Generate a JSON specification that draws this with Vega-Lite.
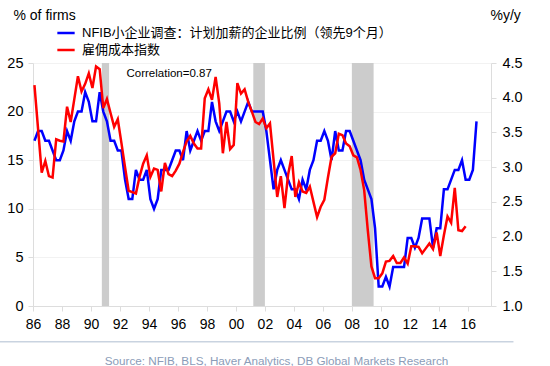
{
  "$schema": "https://vega.github.io/schema/vega-lite/v6.json",
  "width": 458,
  "height": 243,
  "autosize": "none",
  "padding": {"left": 33, "top": 63, "right": 59, "bottom": 60},
  "background": "white",
  "config": {
    "view": {"stroke": null},
    "font": "Liberation Sans",
    "axis": {"labelFont": "Liberation Sans", "titleFont": "Liberation Sans", "labelColor": "#000000", "titleColor": "#000000", "titleFontWeight": "normal", "domainColor": "#dddddd", "tickColor": "#dddddd", "labelOverlap": false},
    "axisX": {"labelOverlap": false, "labelFlush": false, "labelBound": false, "grid": false, "tickSize": 5, "labelPadding": 6, "labelFontSize": 14, "tickCount": 20},
    "legend": {"labelFont": "Liberation Sans, Noto Sans CJK SC"}
  },
  "datasets": {
    "recessions": [
      {"start": 1990.75, "end": 1991.25},
      {"start": 2001.2, "end": 2002.0},
      {"start": 2008.0, "end": 2009.5}
    ],
    "nfib": [
      {"year": 1986.10, "pct": 17}, {"year": 1986.35, "pct": 18}, {"year": 1986.60, "pct": 18}, {"year": 1986.85, "pct": 17},
      {"year": 1987.10, "pct": 17}, {"year": 1987.35, "pct": 16}, {"year": 1987.60, "pct": 15}, {"year": 1987.85, "pct": 15},
      {"year": 1988.10, "pct": 16}, {"year": 1988.35, "pct": 18}, {"year": 1988.60, "pct": 17}, {"year": 1988.85, "pct": 19},
      {"year": 1989.10, "pct": 20}, {"year": 1989.35, "pct": 20}, {"year": 1989.60, "pct": 22}, {"year": 1989.85, "pct": 21},
      {"year": 1990.10, "pct": 19}, {"year": 1990.35, "pct": 19}, {"year": 1990.60, "pct": 22}, {"year": 1990.85, "pct": 20},
      {"year": 1991.10, "pct": 19}, {"year": 1991.35, "pct": 17}, {"year": 1991.60, "pct": 17}, {"year": 1991.85, "pct": 16},
      {"year": 1992.10, "pct": 16}, {"year": 1992.35, "pct": 13}, {"year": 1992.60, "pct": 11}, {"year": 1992.85, "pct": 11},
      {"year": 1993.10, "pct": 14}, {"year": 1993.35, "pct": 13}, {"year": 1993.60, "pct": 13}, {"year": 1993.85, "pct": 14},
      {"year": 1994.10, "pct": 11}, {"year": 1994.35, "pct": 10}, {"year": 1994.60, "pct": 11}, {"year": 1994.85, "pct": 14},
      {"year": 1995.10, "pct": 14}, {"year": 1995.35, "pct": 14}, {"year": 1995.60, "pct": 15}, {"year": 1995.85, "pct": 16},
      {"year": 1996.10, "pct": 16}, {"year": 1996.35, "pct": 15}, {"year": 1996.60, "pct": 18}, {"year": 1996.85, "pct": 16},
      {"year": 1997.10, "pct": 17}, {"year": 1997.35, "pct": 18}, {"year": 1997.60, "pct": 17}, {"year": 1997.85, "pct": 18},
      {"year": 1998.10, "pct": 18}, {"year": 1998.35, "pct": 21}, {"year": 1998.60, "pct": 19}, {"year": 1998.85, "pct": 18},
      {"year": 1999.10, "pct": 19}, {"year": 1999.35, "pct": 20}, {"year": 1999.60, "pct": 20}, {"year": 1999.85, "pct": 19},
      {"year": 2000.10, "pct": 20}, {"year": 2000.35, "pct": 19}, {"year": 2000.60, "pct": 20}, {"year": 2000.85, "pct": 21},
      {"year": 2001.10, "pct": 20}, {"year": 2001.35, "pct": 20}, {"year": 2001.60, "pct": 20}, {"year": 2001.85, "pct": 20},
      {"year": 2002.10, "pct": 18}, {"year": 2002.35, "pct": 15}, {"year": 2002.60, "pct": 12}, {"year": 2002.85, "pct": 14},
      {"year": 2003.10, "pct": 15}, {"year": 2003.35, "pct": 14}, {"year": 2003.60, "pct": 13}, {"year": 2003.85, "pct": 12},
      {"year": 2004.10, "pct": 12}, {"year": 2004.35, "pct": 11}, {"year": 2004.60, "pct": 13}, {"year": 2004.85, "pct": 12},
      {"year": 2005.10, "pct": 14}, {"year": 2005.35, "pct": 15}, {"year": 2005.60, "pct": 17}, {"year": 2005.85, "pct": 17},
      {"year": 2006.10, "pct": 18}, {"year": 2006.35, "pct": 17}, {"year": 2006.60, "pct": 15}, {"year": 2006.85, "pct": 18},
      {"year": 2007.10, "pct": 16}, {"year": 2007.35, "pct": 16}, {"year": 2007.60, "pct": 18}, {"year": 2007.85, "pct": 18},
      {"year": 2008.10, "pct": 17}, {"year": 2008.35, "pct": 16}, {"year": 2008.60, "pct": 15}, {"year": 2008.85, "pct": 13},
      {"year": 2009.10, "pct": 12}, {"year": 2009.35, "pct": 11}, {"year": 2009.60, "pct": 8}, {"year": 2009.85, "pct": 2},
      {"year": 2010.10, "pct": 2}, {"year": 2010.35, "pct": 3}, {"year": 2010.60, "pct": 2}, {"year": 2010.85, "pct": 4},
      {"year": 2011.10, "pct": 4}, {"year": 2011.35, "pct": 4}, {"year": 2011.60, "pct": 4}, {"year": 2011.85, "pct": 7},
      {"year": 2012.10, "pct": 7}, {"year": 2012.35, "pct": 6}, {"year": 2012.60, "pct": 7}, {"year": 2012.85, "pct": 9},
      {"year": 2013.10, "pct": 9}, {"year": 2013.35, "pct": 9}, {"year": 2013.60, "pct": 6}, {"year": 2013.85, "pct": 8},
      {"year": 2014.10, "pct": 8}, {"year": 2014.35, "pct": 12}, {"year": 2014.60, "pct": 12}, {"year": 2014.85, "pct": 13},
      {"year": 2015.10, "pct": 14}, {"year": 2015.35, "pct": 14}, {"year": 2015.60, "pct": 15}, {"year": 2015.85, "pct": 13},
      {"year": 2016.10, "pct": 13}, {"year": 2016.35, "pct": 14}, {"year": 2016.60, "pct": 19}
    ],
    "eci": [
      {"year": 1986.10, "yoy": 4.18}, {"year": 1986.35, "yoy": 3.55}, {"year": 1986.60, "yoy": 2.92}, {"year": 1986.85, "yoy": 3.09},
      {"year": 1987.10, "yoy": 2.87}, {"year": 1987.35, "yoy": 2.85}, {"year": 1987.60, "yoy": 3.40}, {"year": 1987.85, "yoy": 3.38},
      {"year": 1988.10, "yoy": 3.37}, {"year": 1988.35, "yoy": 3.87}, {"year": 1988.60, "yoy": 3.65}, {"year": 1988.85, "yoy": 3.98},
      {"year": 1989.10, "yoy": 4.31}, {"year": 1989.35, "yoy": 4.09}, {"year": 1989.60, "yoy": 4.20}, {"year": 1989.85, "yoy": 4.35},
      {"year": 1990.10, "yoy": 4.14}, {"year": 1990.35, "yoy": 4.45}, {"year": 1990.60, "yoy": 4.41}, {"year": 1990.85, "yoy": 3.85},
      {"year": 1991.10, "yoy": 3.98}, {"year": 1991.35, "yoy": 3.78}, {"year": 1991.60, "yoy": 3.58}, {"year": 1991.85, "yoy": 3.69},
      {"year": 1992.10, "yoy": 3.35}, {"year": 1992.35, "yoy": 3.00}, {"year": 1992.60, "yoy": 2.66}, {"year": 1992.85, "yoy": 2.64},
      {"year": 1993.10, "yoy": 2.62}, {"year": 1993.35, "yoy": 2.86}, {"year": 1993.60, "yoy": 3.05}, {"year": 1993.85, "yoy": 3.17},
      {"year": 1994.10, "yoy": 2.86}, {"year": 1994.35, "yoy": 2.98}, {"year": 1994.60, "yoy": 2.96}, {"year": 1994.85, "yoy": 2.65},
      {"year": 1995.10, "yoy": 3.06}, {"year": 1995.35, "yoy": 2.90}, {"year": 1995.60, "yoy": 2.87}, {"year": 1995.85, "yoy": 2.95},
      {"year": 1996.10, "yoy": 3.05}, {"year": 1996.35, "yoy": 3.22}, {"year": 1996.60, "yoy": 3.37}, {"year": 1996.85, "yoy": 3.45},
      {"year": 1997.10, "yoy": 3.34}, {"year": 1997.35, "yoy": 3.27}, {"year": 1997.60, "yoy": 3.27}, {"year": 1997.85, "yoy": 3.99},
      {"year": 1998.10, "yoy": 4.12}, {"year": 1998.35, "yoy": 3.97}, {"year": 1998.60, "yoy": 4.30}, {"year": 1998.85, "yoy": 3.92},
      {"year": 1999.10, "yoy": 3.20}, {"year": 1999.35, "yoy": 3.65}, {"year": 1999.60, "yoy": 3.26}, {"year": 1999.85, "yoy": 3.32},
      {"year": 2000.10, "yoy": 4.21}, {"year": 2000.35, "yoy": 4.06}, {"year": 2000.60, "yoy": 4.12}, {"year": 2000.85, "yoy": 3.94},
      {"year": 2001.10, "yoy": 3.80}, {"year": 2001.35, "yoy": 3.65}, {"year": 2001.60, "yoy": 3.62}, {"year": 2001.85, "yoy": 3.70},
      {"year": 2002.10, "yoy": 3.56}, {"year": 2002.35, "yoy": 3.63}, {"year": 2002.60, "yoy": 3.10}, {"year": 2002.85, "yoy": 2.57},
      {"year": 2003.10, "yoy": 2.87}, {"year": 2003.35, "yoy": 2.41}, {"year": 2003.60, "yoy": 2.89}, {"year": 2003.85, "yoy": 3.16},
      {"year": 2004.10, "yoy": 2.57}, {"year": 2004.35, "yoy": 2.78}, {"year": 2004.60, "yoy": 2.65}, {"year": 2004.85, "yoy": 2.63},
      {"year": 2005.10, "yoy": 2.72}, {"year": 2005.35, "yoy": 2.50}, {"year": 2005.60, "yoy": 2.28}, {"year": 2005.85, "yoy": 2.43},
      {"year": 2006.10, "yoy": 2.53}, {"year": 2006.35, "yoy": 2.85}, {"year": 2006.60, "yoy": 3.15}, {"year": 2006.85, "yoy": 3.20},
      {"year": 2007.10, "yoy": 3.48}, {"year": 2007.35, "yoy": 3.46}, {"year": 2007.60, "yoy": 3.34}, {"year": 2007.85, "yoy": 3.30},
      {"year": 2008.10, "yoy": 3.17}, {"year": 2008.35, "yoy": 3.14}, {"year": 2008.60, "yoy": 2.96}, {"year": 2008.85, "yoy": 2.67},
      {"year": 2009.10, "yoy": 2.09}, {"year": 2009.35, "yoy": 1.57}, {"year": 2009.60, "yoy": 1.40}, {"year": 2009.85, "yoy": 1.40},
      {"year": 2010.10, "yoy": 1.47}, {"year": 2010.35, "yoy": 1.64}, {"year": 2010.60, "yoy": 1.65}, {"year": 2010.85, "yoy": 1.72},
      {"year": 2011.10, "yoy": 1.62}, {"year": 2011.35, "yoy": 1.62}, {"year": 2011.60, "yoy": 1.70}, {"year": 2011.85, "yoy": 1.61},
      {"year": 2012.10, "yoy": 1.86}, {"year": 2012.35, "yoy": 1.86}, {"year": 2012.60, "yoy": 1.85}, {"year": 2012.85, "yoy": 1.76},
      {"year": 2013.10, "yoy": 1.83}, {"year": 2013.35, "yoy": 1.90}, {"year": 2013.60, "yoy": 1.82}, {"year": 2013.85, "yoy": 2.06},
      {"year": 2014.10, "yoy": 1.72}, {"year": 2014.35, "yoy": 2.02}, {"year": 2014.60, "yoy": 2.29}, {"year": 2014.85, "yoy": 2.20},
      {"year": 2015.10, "yoy": 2.70}, {"year": 2015.35, "yoy": 2.09}, {"year": 2015.60, "yoy": 2.08}, {"year": 2015.85, "yoy": 2.15}
    ]
  },
  "layer": [
    {
      "layer": [
        {
          "data": {"name": "recessions"},
          "mark": {"type": "rect", "color": "#cccccc"},
          "encoding": {
            "x": {"field": "start", "type": "quantitative", "title": "Source:  NFIB, BLS, Haver Analytics, DB Global Markets Research", "scale": {"domain": [1986, 2017.6], "nice": false, "zero": false},
              "axis": {"values": [1986,1988,1990,1992,1994,1996,1998,2000,2002,2004,2006,2008,2010,2012,2014,2016], "tickCount": 20, "labelExpr": "substring(toString(datum.value), 2)", "titleX": 243, "titleY": 54, "titleBaseline": "middle", "titleAlign": "center", "titleColor": "#8b9cb8", "titleFontSize": 11.7}},
            "x2": {"field": "end"}
          }
        },
        {
          "data": {"name": "nfib"},
          "mark": {"type": "line", "strokeWidth": 2.5, "strokeJoin": "miter"},
          "encoding": {
            "x": {"field": "year", "type": "quantitative", "title": "Source:  NFIB, BLS, Haver Analytics, DB Global Markets Research",
              "axis": {"values": [1986,1988,1990,1992,1994,1996,1998,2000,2002,2004,2006,2008,2010,2012,2014,2016], "tickCount": 20, "labelExpr": "substring(toString(datum.value), 2)", "titleX": 243, "titleY": 54, "titleBaseline": "middle", "titleAlign": "center", "titleColor": "#8b9cb8", "titleFontSize": 11.7}},
            "y": {"field": "pct", "type": "quantitative", "scale": {"domain": [0, 25], "nice": false, "zero": false},
              "axis": {"values": [0,5,10,15,20,25], "tickCount": 20, "grid": true, "gridColor": "#f2f2f2", "tickSize": 5, "labelPadding": 5, "labelFontSize": 14.5, "title": "% of firms", "titleAngle": 0, "titleAlign": "left", "titleBaseline": "middle", "titleX": -20, "titleY": -48, "titleFontSize": 14}},
            "color": {"datum": "NFIB小企业调查：计划加薪的企业比例（领先9个月）", "type": "nominal",
              "scale": {"domain": ["NFIB小企业调查：计划加薪的企业比例（领先9个月）", "雇佣成本指数"], "range": ["#0000ff", "#ff0000"]},
              "legend": {"title": null, "orient": "none", "legendX": 23, "legendY": -40, "symbolType": "stroke", "symbolSize": 300, "symbolStrokeWidth": 2.5, "labelFontSize": 13, "labelOffset": 6, "rowPadding": 0, "padding": 0, "labelColor": "#000000", "labelLimit": 400}}
          }
        },
        {
          "data": {"values": [{"label": "Correlation=0.87"}]},
          "mark": {"type": "text", "align": "left", "baseline": "middle", "fontSize": 11.5, "color": "#000000"},
          "encoding": {
            "x": {"datum": 1992.45},
            "y": {"datum": 23.9},
            "text": {"field": "label"}
          }
        },
        {
          "data": {"values": [{}]},
          "mark": {"type": "rule", "color": "#c9d3e0", "strokeWidth": 1.5},
          "encoding": {
            "x": {"datum": 1983.7},
            "x2": {"datum": 2019.15},
            "y": {"datum": -3.67}
          }
        }
      ]
    },
    {
      "data": {"name": "eci"},
      "mark": {"type": "line", "strokeWidth": 2.5, "strokeJoin": "miter"},
      "encoding": {
        "x": {"field": "year", "type": "quantitative", "title": "Source:  NFIB, BLS, Haver Analytics, DB Global Markets Research",
          "axis": {"values": [1986,1988,1990,1992,1994,1996,1998,2000,2002,2004,2006,2008,2010,2012,2014,2016], "tickCount": 20, "labelExpr": "substring(toString(datum.value), 2)", "titleX": 243, "titleY": 54, "titleBaseline": "middle", "titleAlign": "center", "titleColor": "#8b9cb8", "titleFontSize": 11.7}},
        "y": {"field": "yoy", "type": "quantitative", "scale": {"domain": [1, 4.5], "nice": false, "zero": false},
          "axis": {"orient": "right", "values": [1,1.5,2,2.5,3,3.5,4,4.5], "tickCount": 20, "format": ".1f", "grid": false, "tickSize": 5, "labelPadding": 6, "labelFontSize": 14.5, "title": "%y/y", "titleAngle": 0, "titleAlign": "left", "titleBaseline": "middle", "titleX": -1, "titleY": -48, "titleFontSize": 14}},
        "color": {"datum": "雇佣成本指数", "type": "nominal"}
      }
    }
  ],
  "resolve": {"scale": {"y": "independent"}}
}
